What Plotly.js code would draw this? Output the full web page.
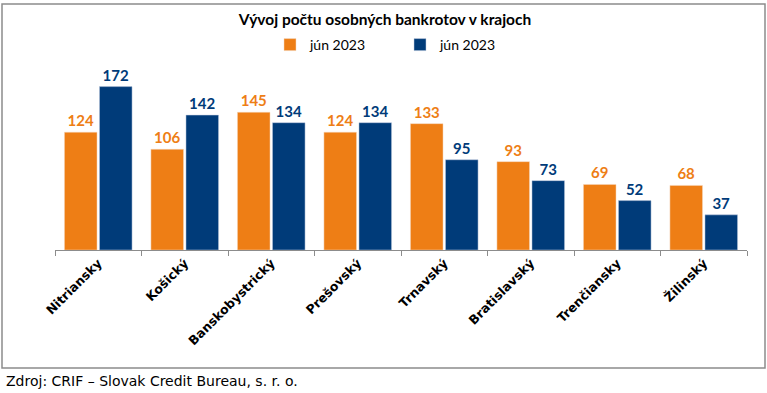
<!DOCTYPE html>
<html>
<head>
<meta charset="utf-8">
<script src="https://cdn.plot.ly/plotly-3.0.1.min.js"></script>
<style>
html,body{margin:0;padding:0;background:#fff;}
#chart{width:767px;height:393px;}
</style>
</head>
<body>
<div id="chart"></div>
<script>
const categories = ["Nitriansky","Košický","Banskobystrický","Prešovský","Trnavský","Bratislavský","Trenčiansky","Žilinský"];
const series1Name = "jún 2023";
const series2Name = "jún 2023";
const series1Values = [124,106,145,124,133,93,69,68];
const series2Values = [172,142,134,134,95,73,52,37];
const titleText = "Vývoj počtu osobných bankrotov v krajoch";
const sourceText = "Zdroj: CRIF – Slovak Credit Bureau, s. r. o.";

const ORANGE = "#EE7E15";
const NAVY = "#003B79";

const traces = [
  {
    type: "bar", name: series1Name, x: categories, y: series1Values,
    marker: {color: ORANGE, line: {color: "#f4d9c0", width: 0.5}},
    text: series1Values.map(String), textposition: "outside", cliponaxis: false,
    textfont: {family: "Lato, sans-serif", size: 15, color: ORANGE, weight: "bold"}
  },
  {
    type: "bar", name: series2Name, x: categories, y: series2Values,
    marker: {color: NAVY, line: {color: "#c0cde0", width: 0.5}},
    text: series2Values.map(String), textposition: "outside", cliponaxis: false,
    textfont: {family: "Lato, sans-serif", size: 15, color: NAVY, weight: "bold"}
  }
];

const L = 55, R = 20, T = 60, B = 143;
const W = 767, H = 393;
const pw = W - L - R, ph = H - T - B;
const px = v => (v - L) / pw;
const py = v => (H - B - v) / ph;

const layout = {
  width: W, height: H,
  margin: {l: L, r: R, t: T, b: B, pad: 0},
  paper_bgcolor: "#fff", plot_bgcolor: "#fff",
  font: {family: "Lato, sans-serif", color: "#000"},
  title: {text: "<b>" + titleText + "</b>", x: px(385), xref: "paper", xanchor: "center", y: 1 - 20/H, yanchor: "middle",
          font: {family: "Lato, sans-serif", size: 15.5, color: "#000"}},
  showlegend: true,
  legend: {orientation: "h", x: px(270), xanchor: "left", y: py(45), yanchor: "middle",
           entrywidth: 85, entrywidthmode: "pixels",
           font: {family: "Lato, sans-serif", size: 14, color: "#000"}, itemwidth: 30, traceorder: "normal"},
  bargap: 0.19, bargroupgap: 0.07, barmode: "group",
  xaxis: {
    type: "category", showline: true, linecolor: "#8c8c8c", linewidth: 1,
    ticks: "outside", tickson: "boundaries", ticklen: 5, tickcolor: "#8c8c8c",
    tickangle: -45, tickfont: {family: "DejaVu Sans, sans-serif", size: 12.5, color: "#000", weight: "bold"},
    showgrid: false, zeroline: false
  },
  yaxis: {range: [0, 200], visible: false, showgrid: false, zeroline: false, fixedrange: true},
  shapes: [
    {type: "rect", xref: "paper", yref: "paper", x0: px(2), x1: px(765), y0: py(368), y1: py(4),
     line: {color: "#8c8c8c", width: 1.5}, fillcolor: "rgba(0,0,0,0)", layer: "below"}
  ],
  annotations: [
    {text: sourceText, xref: "paper", yref: "paper", x: px(4), y: py(381), xanchor: "left", yanchor: "middle",
     showarrow: false, font: {family: "DejaVu Sans, sans-serif", size: 14, color: "#000"}}
  ]
};

Plotly.newPlot("chart", traces, layout, {displayModeBar: false, staticPlot: true});
</script>
</body>
</html>
